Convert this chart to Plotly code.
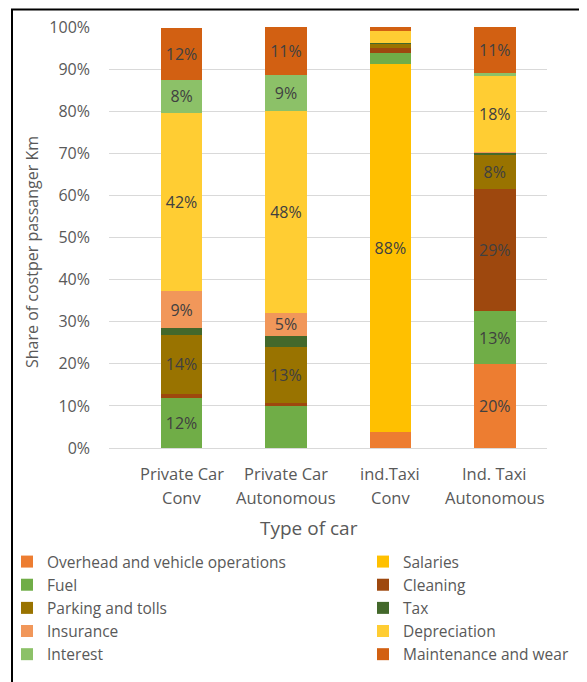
import plotly.graph_objects as go

categories = ["Private Car Conv", "Private Car Autonomous", "ind.Taxi Conv", "Ind. Taxi Autonomous"]
tick_line1 = ["Private Car", "Private Car", "ind.Taxi", "Ind. Taxi"]
tick_line2 = ["Conv", "Autonomous", "Conv", "Autonomous"]

series_names = ["Overhead and vehicle operations", "Salaries", "Fuel", "Cleaning",
                "Parking and tolls", "Tax", "Insurance", "Depreciation", "Interest",
                "Maintenance and wear"]

overhead = [0.0, 0.0, 3.7, 19.9]
salaries = [0.0, 0.0, 87.6, 0.0]
fuel = [11.8, 9.9, 2.5, 12.6]
cleaning = [1.0, 0.8, 1.2, 29.0]
parking = [14.1, 13.4, 1.1, 8.1]
tax = [1.5, 2.6, 0.2, 0.6]
insurance = [8.8, 5.4, 0.0, 0.2]
depreciation = [42.4, 47.9, 2.7, 17.9]
interest = [7.9, 8.7, 0.0, 0.7]
maintenance = [12.3, 11.2, 1.3, 11.3]

# which data labels are shown (1 = shown)
show_overhead = [0, 0, 0, 1]
show_salaries = [0, 0, 1, 0]
show_fuel = [1, 0, 0, 1]
show_cleaning = [0, 0, 0, 1]
show_parking = [1, 1, 0, 1]
show_tax = [0, 0, 0, 0]
show_insurance = [1, 1, 0, 0]
show_depreciation = [1, 1, 0, 1]
show_interest = [1, 1, 0, 0]
show_maintenance = [1, 1, 0, 1]

colors = ["#ED7D31", "#FFC000", "#70AD47", "#9E480E", "#997300", "#43682B",
          "#F1975A", "#FFCD33", "#8CC168", "#D26012"]

values = [overhead, salaries, fuel, cleaning, parking, tax, insurance, depreciation, interest, maintenance]
shows = [show_overhead, show_salaries, show_fuel, show_cleaning, show_parking, show_tax,
         show_insurance, show_depreciation, show_interest, show_maintenance]
# left legend column holds even-indexed series, right column odd-indexed
legend_ids = ["legend" if i % 2 == 0 else "legend2" for i in range(len(series_names))]

FONT = "Open Sans"
GRAY = "#595959"
fig = go.Figure()
for name, vals, sh, col, lg in zip(series_names, values, shows, colors, legend_ids):
    txt = [f"{round(v)}%" if s else "" for v, s in zip(vals, sh)]
    fig.add_trace(go.Bar(
        name=name, x=categories, y=[v / 100 for v in vals],
        marker=dict(color=col, line=dict(width=0)),
        text=txt, texttemplate="%{text}", textposition="inside",
        insidetextanchor="middle", textangle=0,
        textfont=dict(family=FONT, size=16, color="#404040"),
        width=0.4, hoverinfo="name+y", legend=lg,
    ))

# page pixel -> paper coords (plot area spans page x 109..547, y 27..448)
def px_x(p):
    return (p - 109) / 438

def px_y(p):
    return (448 - p) / 421

annotations = []
for c, l1, l2 in zip(categories, tick_line1, tick_line2):
    annotations.append(dict(x=c, xref="x", y=px_y(473), yref="paper", text=l1, showarrow=False,
                            font=dict(family=FONT, size=16.5, color=GRAY), yanchor="middle"))
    annotations.append(dict(x=c, xref="x", y=px_y(497), yref="paper", text=l2, showarrow=False,
                            font=dict(family=FONT, size=16.5, color=GRAY), yanchor="middle"))
annotations.append(dict(x=px_x(309), xref="paper", y=px_y(528), yref="paper",
                        text="Type of car", showarrow=False, yanchor="middle",
                        font=dict(family=FONT, size=19, color=GRAY)))
annotations.append(dict(x=px_x(32), xref="paper", y=px_y(252), yref="paper",
                        text="Share of costper passanger Km", showarrow=False, textangle=-90,
                        xanchor="center", yanchor="middle",
                        font=dict(family=FONT, size=16, color=GRAY)))

legend_common = dict(orientation="v", xanchor="left", yanchor="top", traceorder="normal",
                     font=dict(family=FONT, size=15.5, color=GRAY), itemclick=False,
                     tracegroupgap=0, bgcolor="rgba(0,0,0,0)", borderwidth=0)

# the page has an 8px body margin, so figure margins are page positions minus 8
fig.update_layout(
    width=587, height=682,
    margin=dict(l=101, r=48, t=19, b=242, autoexpand=False),
    barmode="stack",
    paper_bgcolor="white", plot_bgcolor="white",
    showlegend=True,
    legend=dict(x=px_x(7), y=px_y(545), **legend_common),
    legend2=dict(x=px_x(363), y=px_y(545), **legend_common),
    xaxis=dict(type="category", range=[-0.695, 3.5], showticklabels=False,
               showline=True, linecolor="#D9D9D9", linewidth=1, showgrid=False, ticks=""),
    yaxis=dict(range=[0, 1], dtick=0.1, tickformat=".0%", showgrid=True,
               gridcolor="#D9D9D9", gridwidth=1, zeroline=False, showline=False,
               ticklabelstandoff=18,
               tickfont=dict(family=FONT, size=16, color=GRAY)),
    annotations=annotations,
    shapes=[dict(type="rect", xref="paper", yref="paper",
                 x0=px_x(12), x1=px_x(600), y0=px_y(700), y1=px_y(9.5),
                 line=dict(color="black", width=2), fillcolor="rgba(0,0,0,0)", layer="below")],
    uniformtext=dict(mode="show", minsize=16),
)

fig.write_html("out.html")
